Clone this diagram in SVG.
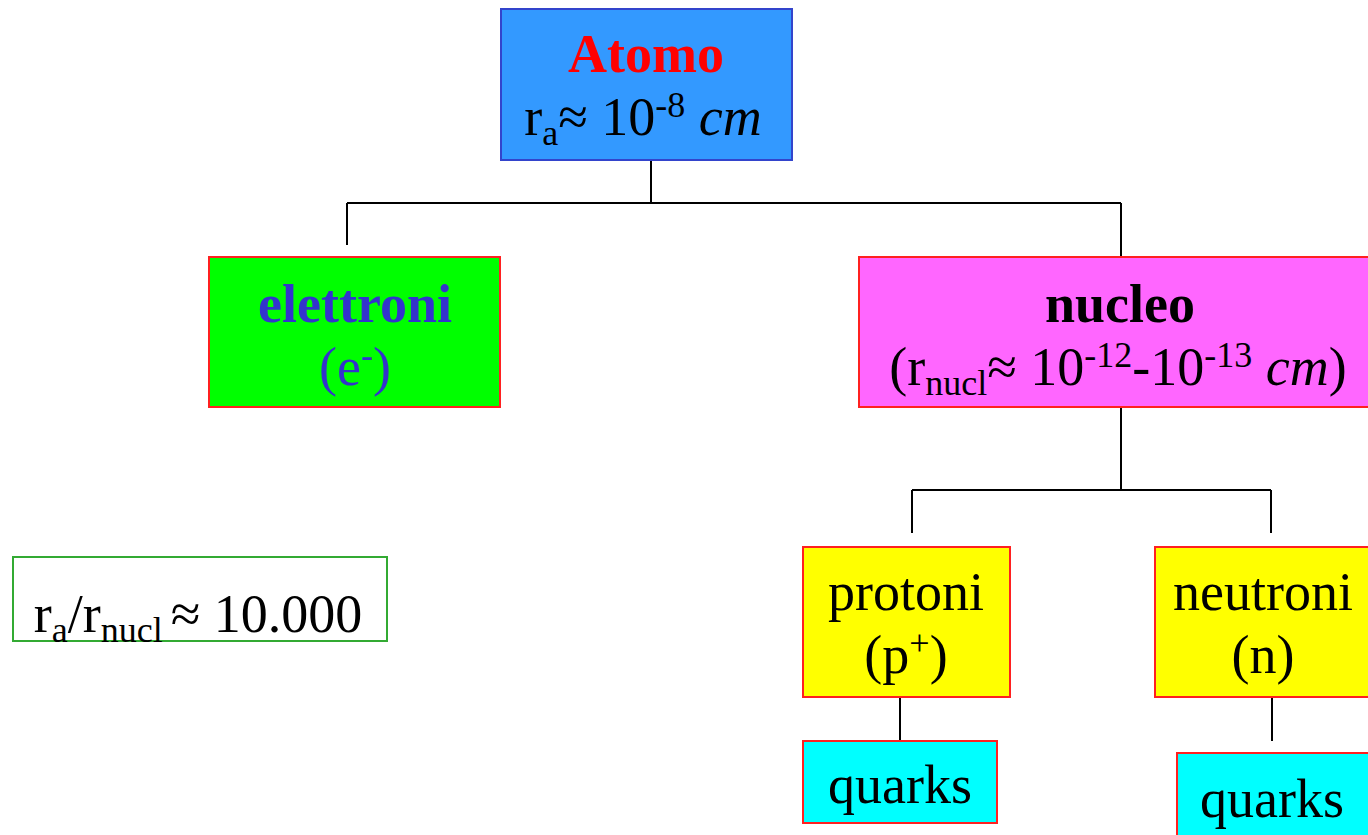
<svg xmlns="http://www.w3.org/2000/svg" width="1368" height="835" viewBox="0 0 1368 835">
<style>
text{font-family:"Liberation Serif","Times New Roman",serif;font-size:54px;text-anchor:middle;fill:#000}
.b{font-weight:bold}
.s{font-size:36px}
.i{font-style:italic}
.box{stroke:#FF2020;stroke-width:2}
.ln{stroke:#000;stroke-width:2;fill:none}
</style>
<rect width="1368" height="835" fill="#fff"/>
<g id="connectors">
<path class="ln" d="M651 160V203M347 203H1121M347 203V245M1121 203V257"/>
<path class="ln" d="M1121 407V490M912 490H1271M912 490V533M1271 490V533"/>
<path class="ln" d="M900 697V741M1272 697V741"/>
</g>
<g id="atomo">
<rect x="501" y="9" width="291" height="151" fill="#3399FF" stroke="#3344CC" stroke-width="2"/>
<text x="646" y="72" class="b" style="fill:#FF0000">Atomo</text>
<text x="643" y="135">r<tspan class="s" dy="10">a</tspan><tspan dy="-10">≈ 10</tspan><tspan class="s" dy="-18">-8</tspan><tspan dy="18"> </tspan><tspan class="i">cm</tspan></text>
</g>
<g id="elettroni">
<rect class="box" x="209" y="257" width="291" height="150" fill="#00FF00"/>
<text x="355" y="322" class="b" style="fill:#3333CC">elettroni</text>
<text x="355" y="385" style="fill:#3333CC">(e<tspan class="s" dy="-18">-</tspan><tspan dy="18">)</tspan></text>
</g>
<g id="nucleo">
<rect class="box" x="859" y="257" width="520" height="150" fill="#FF66FF"/>
<text x="1120" y="322" class="b">nucleo</text>
<text x="1118" y="385">(r<tspan class="s" dy="10">nucl</tspan><tspan dy="-10">≈ 10</tspan><tspan class="s" dy="-18">-12</tspan><tspan dy="18">-10</tspan><tspan class="s" dy="-18">-13</tspan><tspan dy="18"> </tspan><tspan class="i">cm</tspan>)</text>
</g>
<g id="ratio">
<rect x="13" y="557" width="374" height="84" fill="#fff" stroke="#33AA33" stroke-width="2"/>
<text x="198" y="632">r<tspan class="s" dy="10">a</tspan><tspan dy="-10">/r</tspan><tspan class="s" dy="10">nucl</tspan><tspan dy="-10" dx="8">≈ 10.000</tspan></text>
</g>
<g id="protoni">
<rect class="box" x="803" y="547" width="207" height="150" fill="#FFFF00"/>
<text x="906" y="610">protoni</text>
<text x="906" y="673">(p<tspan class="s" dy="-18">+</tspan><tspan dy="18">)</tspan></text>
</g>
<g id="neutroni">
<rect class="box" x="1155" y="547" width="224" height="150" fill="#FFFF00"/>
<text x="1263" y="610">neutroni</text>
<text x="1263" y="673">(n)</text>
</g>
<g id="quarks1">
<rect class="box" x="803" y="741" width="194" height="82" fill="#00FFFF"/>
<text x="900" y="803">quarks</text>
</g>
<g id="quarks2">
<rect class="box" x="1177" y="753" width="202" height="90" fill="#00FFFF"/>
<text x="1272" y="817">quarks</text>
</g>
</svg>
